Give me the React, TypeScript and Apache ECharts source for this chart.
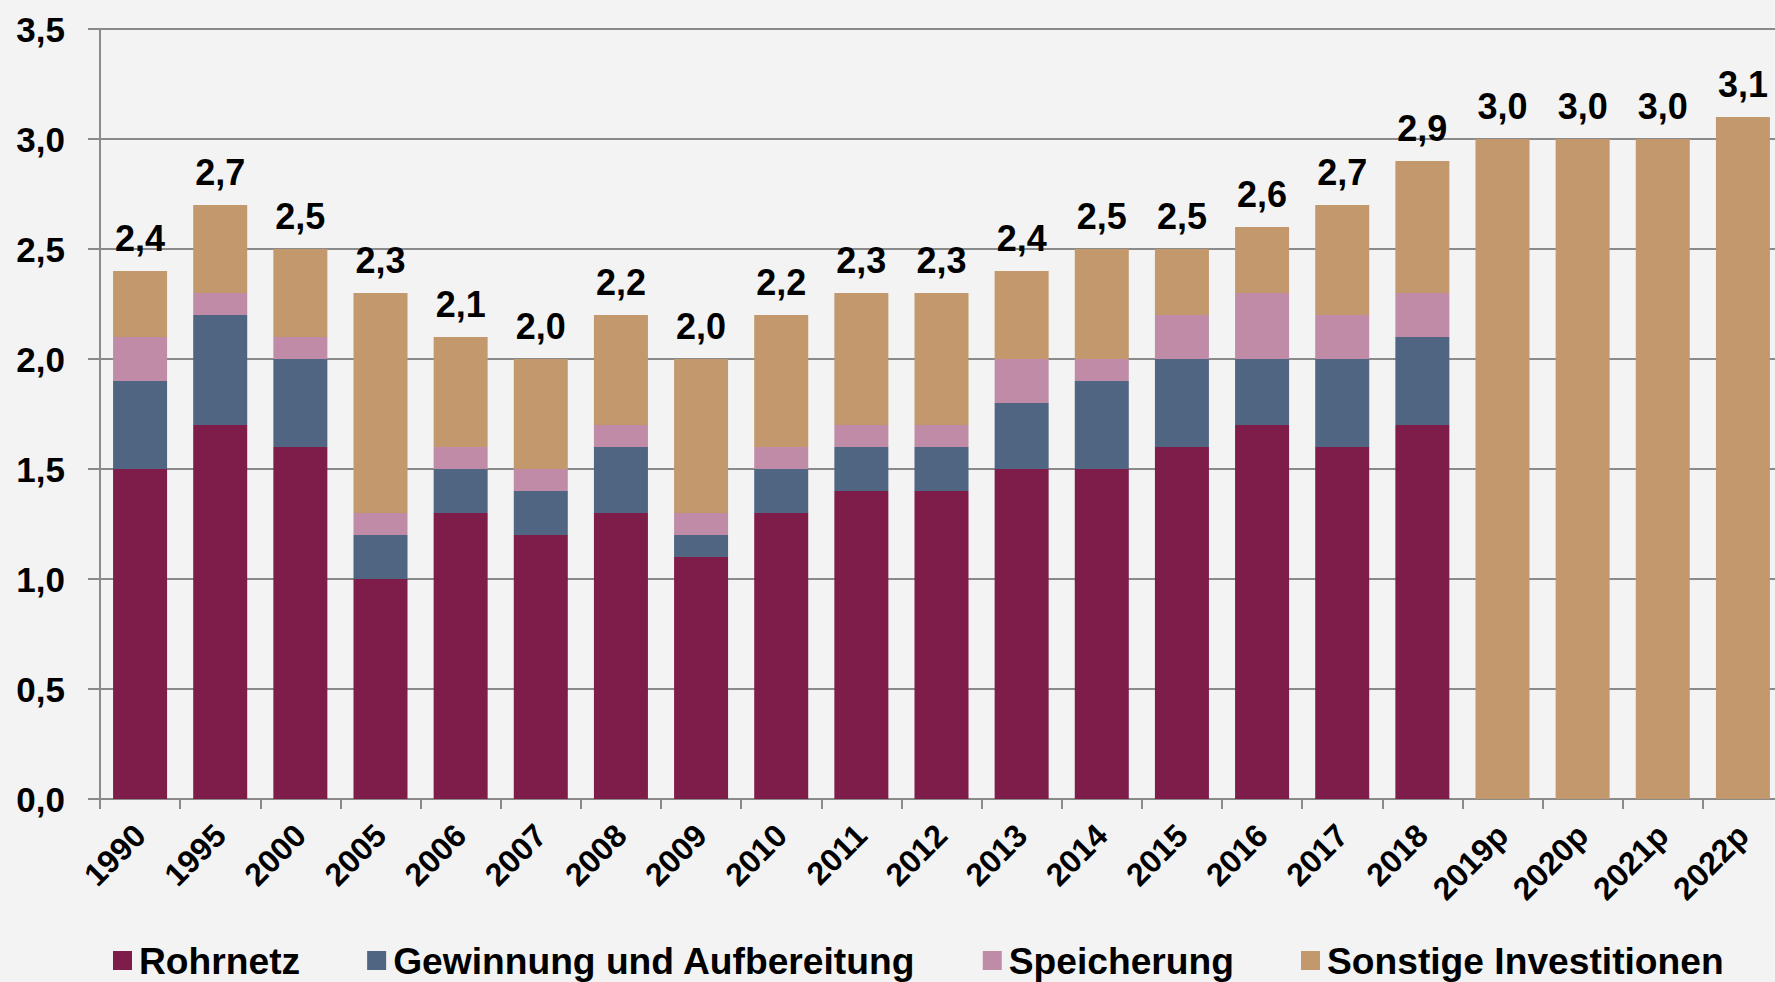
import React, { useEffect, useRef } from "react";
import * as echarts from "echarts";

const categories = ["1990", "1995", "2000", "2005", "2006", "2007", "2008", "2009", "2010", "2011", "2012", "2013", "2014", "2015", "2016", "2017", "2018", "2019p", "2020p", "2021p", "2022p"];
const rohrnetz = [1.5, 1.7, 1.6, 1.0, 1.3, 1.2, 1.3, 1.1, 1.3, 1.4, 1.4, 1.5, 1.5, 1.6, 1.7, 1.6, 1.7, null, null, null, null];
const gewinnung = [0.4, 0.5, 0.4, 0.2, 0.2, 0.2, 0.3, 0.1, 0.2, 0.2, 0.2, 0.3, 0.4, 0.4, 0.3, 0.4, 0.4, null, null, null, null];
const speicherung = [0.2, 0.1, 0.1, 0.1, 0.1, 0.1, 0.1, 0.1, 0.1, 0.1, 0.1, 0.2, 0.1, 0.2, 0.3, 0.2, 0.2, null, null, null, null];
const sonstige = [0.3, 0.4, 0.4, 1.0, 0.5, 0.5, 0.5, 0.7, 0.6, 0.6, 0.6, 0.4, 0.5, 0.3, 0.3, 0.5, 0.6, 3.0, 3.0, 3.0, 3.1];
const seriesNames = ["Rohrnetz", "Gewinnung und Aufbereitung", "Speicherung", "Sonstige Investitionen"];
const colors = ["#7e1c4a", "#4f6581", "#bf8ba6", "#c2986c"];
const yTicks = [0, 0.5, 1.0, 1.5, 2.0, 2.5, 3.0, 3.5];

const FONT = "'Liberation Sans', Arial, Helvetica, sans-serif";
const fmt = (v: number) => v.toFixed(1).replace(".", ",");

export default function App() {
  const ref = useRef<HTMLDivElement>(null);
  useEffect(() => {
    if (!ref.current) return;
    const chart = echarts.init(ref.current, null, { renderer: "svg" });
    const all = [rohrnetz, gewinnung, speicherung, sonstige];
    const totals = categories.map((_, i) => all.reduce((s, arr) => s + (arr[i] ?? 0), 0));
    chart.setOption({
      animation: false,
      backgroundColor: "#f3f3f3",
      textStyle: { fontFamily: FONT },
      grid: { left: 100, top: 29, width: 1683, height: 770, containLabel: false, outerBoundsMode: "none" },
      legend: {
        left: 113,
        top: 942,
        itemWidth: 19,
        itemHeight: 19,
        itemGap: 67,
        icon: "rect",
        padding: 0,
        textStyle: { fontSize: 37.2, fontWeight: "bold", color: "#000", fontFamily: FONT, padding: [0, 0, 0, 2] },
        data: seriesNames,
      },
      xAxis: {
        type: "category",
        data: categories,
        axisLine: { lineStyle: { color: "#8a8a8a", width: 2 } },
        axisTick: { show: true, length: 10, lineStyle: { color: "#8a8a8a", width: 2 } },
        axisLabel: {
          rotate: 45,
          margin: 31,
          fontSize: 32,
          fontWeight: "bold",
          color: "#000",
          fontFamily: FONT,
          interval: 0,
        },
      },
      yAxis: {
        type: "value",
        min: 0,
        max: 3.5,
        interval: 0.5,
        axisLine: { show: true, lineStyle: { color: "#8a8a8a", width: 2 } },
        axisTick: { show: true, length: 12, lineStyle: { color: "#8a8a8a", width: 2 } },
        splitLine: { lineStyle: { color: "#8a8a8a", width: 2 } },
        axisLabel: {
          margin: 35,
          fontSize: 35,
          fontWeight: "bold",
          color: "#000",
          fontFamily: FONT,
          formatter: (v: number) => (yTicks.includes(v) ? fmt(v) : ""),
        },
      },
      series: all.map((arr, k) => ({
        name: seriesNames[k],
        type: "bar",
        stack: "total",
        barWidth: 54,
        data: arr,
        itemStyle: { color: colors[k] },
        label:
          k === 3
            ? {
                show: true,
                position: "top",
                distance: 15,
                fontSize: 36,
                fontWeight: "bold",
                color: "#000",
                fontFamily: FONT,
                formatter: (p: any) => fmt(totals[p.dataIndex]),
              }
            : { show: false },
      })),
    });
    return () => chart.dispose();
  }, []);
  return (
    <div
      ref={ref}
      style={{ position: "fixed", left: 0, top: 0, width: 1775, height: 982, background: "#f3f3f3" }}
    />
  );
}
